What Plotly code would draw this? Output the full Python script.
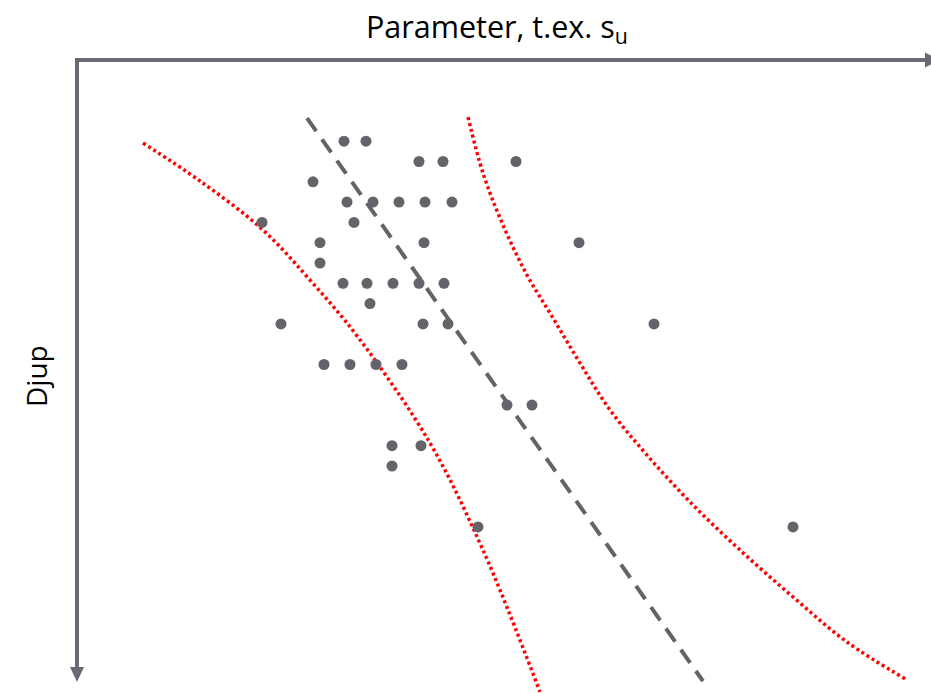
import plotly.graph_objects as go

# ---- data (parameter value x, depth level y) ----
pts_x = [26.7, 28.9,
         34.2, 36.6, 43.9,
         23.6,
         27.0, 29.6, 32.2, 34.8, 37.5,
         18.5, 27.7,
         24.3, 34.7, 50.2,
         24.3,
         26.6, 29.0, 31.6, 34.2, 36.7,
         29.3,
         20.4, 34.6, 37.1, 57.7,
         24.7, 27.3, 29.9, 32.5,
         43.0, 45.5,
         31.5, 34.4,
         31.5,
         40.1, 71.6]
pts_y = [4, 4,
         5, 5, 5,
         6,
         7, 7, 7, 7, 7,
         8, 8,
         9, 9, 9,
         10,
         11, 11, 11, 11, 11,
         12,
         13, 13, 13, 13,
         15, 15, 15, 15,
         17, 17,
         19, 19,
         20,
         23, 23]

trend_x = [23.0, 62.6]
trend_y = [2.86, 30.6]

lower_x = [6.6, 12.3, 18.5, 23.3, 28.1, 35.3, 40.6, 46.3]
lower_y = [4.09, 5.96, 8.33, 10.84, 13.65, 18.87, 24.14, 31.13]

upper_x = [39.1, 40.6, 42.6, 45.0, 47.6, 50.3, 53.3, 57.0, 61.3, 66.3, 71.6, 77.0, 83.0]
upper_y = [2.81, 5.57, 8.13, 10.59, 12.71, 14.93, 17.24, 19.46, 21.77, 24.14, 26.45, 28.67, 30.54]

title_x = "Parameter, t.ex. s<sub>u</sub>"
title_y = "Djup"

# ---- layout helpers (pixel -> axis units) ----
W, H = 931, 693
X0, Y0, SX, SY = 77.0, 60.0, 10.0, 20.3
def dx(p): return (p - X0) / SX
def dy(p): return (p - Y0) / SY

AX = "#6a6a72"
DOT = "#636369"

fig = go.Figure()
fig.add_trace(go.Scatter(x=trend_x, y=trend_y, mode="lines",
                         line=dict(color=DOT, width=4, dash="16px,10px"),
                         hoverinfo="skip"))
fig.add_trace(go.Scatter(x=lower_x, y=lower_y, mode="lines",
                         line=dict(color="#ff0000", width=3.5, dash="3px,3px", shape="spline"),
                         hoverinfo="skip"))
fig.add_trace(go.Scatter(x=upper_x, y=upper_y, mode="lines",
                         line=dict(color="#ff0000", width=3.5, dash="3px,3px", shape="spline"),
                         hoverinfo="skip"))
fig.add_trace(go.Scatter(x=pts_x, y=pts_y, mode="markers",
                         marker=dict(color=DOT, size=11, line=dict(width=0))))

shapes = [
    dict(type="line", xref="x", yref="y", x0=dx(75), y0=0, x1=dx(928), y1=0,
         line=dict(color=AX, width=4)),
    dict(type="line", xref="x", yref="y", x0=0, y0=dy(58), x1=0, y1=dy(670),
         line=dict(color=AX, width=4)),
    dict(type="path", xref="x", yref="y",
         path=f"M{dx(925)},{dy(52.5)} L{dx(940)},{dy(60)} L{dx(925)},{dy(67.5)} Z",
         fillcolor=AX, line=dict(width=0)),
    dict(type="path", xref="x", yref="y",
         path=f"M{dx(70)},{dy(667)} L{dx(77)},{dy(682)} L{dx(84)},{dy(667)} Z",
         fillcolor=AX, line=dict(width=0)),
]

annotations = [
    dict(text=title_x, x=dx(497), y=dy(27), xref="x", yref="y", showarrow=False,
         font=dict(family="Open Sans", size=30.5, color="#000000"), xanchor="center", yanchor="middle"),
    dict(text=title_y, x=dx(36), y=dy(376), xref="x", yref="y", showarrow=False, textangle=-90,
         font=dict(family="Open Sans", size=28, color="#000000"), xanchor="center", yanchor="middle"),
]

fig.update_layout(
    width=W, height=H, margin=dict(l=0, r=0, t=0, b=0),
    paper_bgcolor="white", plot_bgcolor="white", showlegend=False,
    shapes=shapes, annotations=annotations,
    xaxis=dict(range=[dx(0), dx(W)], visible=False, fixedrange=True),
    yaxis=dict(range=[dy(H), dy(0)], visible=False, fixedrange=True),
)
fig.write_html("out.html", config={"displayModeBar": False},
               post_script="document.body.style.margin='0';document.body.style.overflow='hidden';")
